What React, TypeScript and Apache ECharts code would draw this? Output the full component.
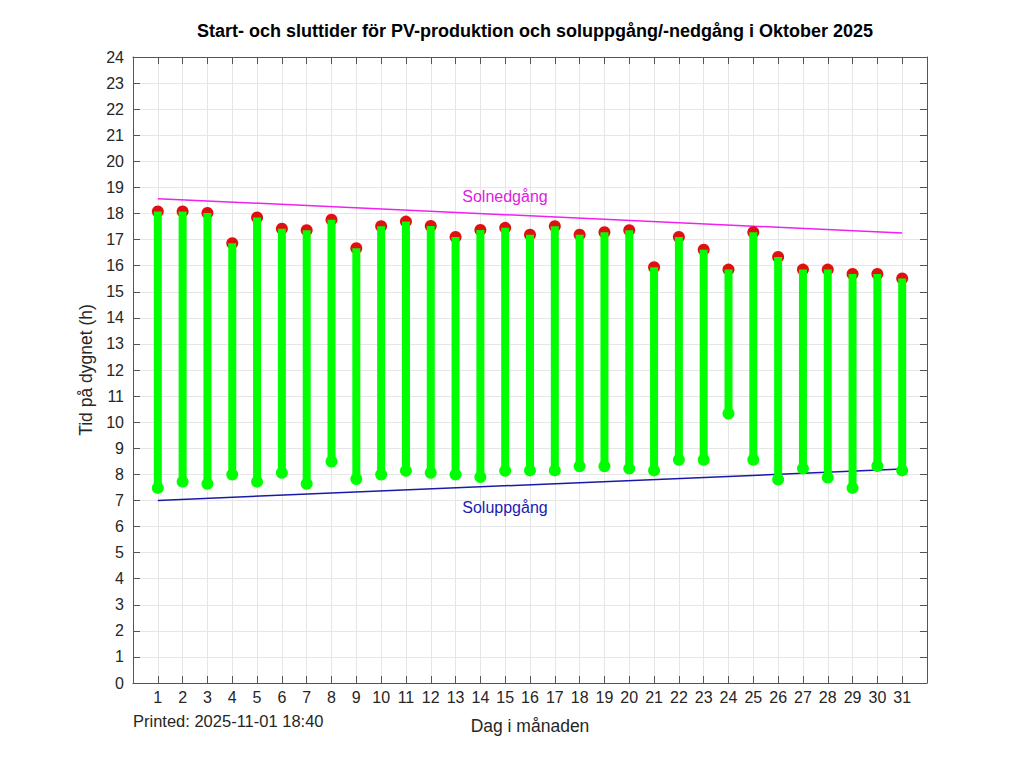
import React, { useEffect, useRef } from "react";
import * as echarts from "echarts";

const days = Array.from({ length: 31 }, (_, i) => i + 1);
const startTimes = [7.48, 7.72, 7.64, 7.99, 7.72, 8.06, 7.64, 8.49, 7.82, 7.99, 8.14, 8.06, 7.99, 7.9, 8.14, 8.15, 8.15, 8.31, 8.31, 8.22, 8.15, 8.56, 8.56, 10.33, 8.56, 7.8, 8.22, 7.88, 7.48, 8.32, 8.15];
const endTimes = [18.08, 18.08, 18.02, 16.86, 17.85, 17.42, 17.36, 17.76, 16.67, 17.51, 17.69, 17.52, 17.1, 17.37, 17.45, 17.19, 17.51, 17.19, 17.28, 17.36, 15.94, 17.1, 16.61, 15.85, 17.28, 16.33, 15.85, 15.85, 15.68, 15.68, 15.51];
const sunsetLine = [[1, 18.57], [31, 17.25]];
const sunriseLine = [[1, 7.0], [31, 8.2]];

const FONT = "Liberation Sans, Arial, Helvetica, sans-serif";
const AXIS_COLOR = "#555";
const TEXT_COLOR = "#262626";

export default function App() {
  const ref = useRef<HTMLDivElement>(null);
  useEffect(() => {
    document.body.style.margin = "0";
    const chart = echarts.init(ref.current!, null, { renderer: "svg" });
    const commonTick = { show: true, inside: true, length: 7, lineStyle: { color: AXIS_COLOR } };
    chart.setOption({
      animation: false,
      backgroundColor: "#fff",
      textStyle: { fontFamily: FONT },
      title: {
        text: "Start- och sluttider för PV-produktion och soluppgång/-nedgång i Oktober 2025",
        left: 530,
        textAlign: "center",
        top: 17,
        textStyle: { fontSize: 18, fontWeight: "bold", color: "#000", fontFamily: FONT },
      },
      grid: { left: 133, right: 97, top: 57, bottom: 85, containLabel: false },
      xAxis: [
        {
          type: "value",
          min: 0,
          max: 32,
          interval: 1,
          name: "Dag i månaden",
          nameLocation: "middle",
          nameGap: 34,
          nameTextStyle: { fontSize: 17.5, color: TEXT_COLOR, fontFamily: FONT },
          axisLine: { show: true, onZero: false, lineStyle: { color: AXIS_COLOR } },
          axisTick: commonTick,
          axisLabel: {
            fontSize: 16,
            color: TEXT_COLOR,
            margin: 6,
            formatter: (v: number) => (v >= 1 && v <= 31 ? String(v) : ""),
          },
          splitLine: { show: true, lineStyle: { color: "#e6e6e6" } },
        },
        {
          type: "value",
          position: "top",
          min: 0,
          max: 32,
          interval: 1,
          axisLine: { show: true, onZero: false, lineStyle: { color: AXIS_COLOR } },
          axisTick: commonTick,
          axisLabel: { show: false },
          splitLine: { show: false },
        },
      ],
      yAxis: [
        {
          type: "value",
          min: 0,
          max: 24,
          interval: 1,
          name: "Tid på dygnet (h)",
          nameLocation: "middle",
          nameGap: 37,
          nameTextStyle: { fontSize: 17.5, color: TEXT_COLOR, fontFamily: FONT },
          axisLine: { show: true, onZero: false, lineStyle: { color: AXIS_COLOR } },
          axisTick: commonTick,
          axisLabel: { fontSize: 16, color: TEXT_COLOR, margin: 9 },
          splitLine: { show: true, lineStyle: { color: "#e6e6e6" } },
        },
        {
          type: "value",
          position: "right",
          min: 0,
          max: 24,
          interval: 1,
          axisLine: { show: true, onZero: false, lineStyle: { color: AXIS_COLOR } },
          axisTick: commonTick,
          axisLabel: { show: false },
          splitLine: { show: false },
        },
      ],
      series: [
        {
          type: "line",
          data: sunsetLine,
          symbol: "none",
          lineStyle: { color: "#f020f0", width: 1.5 },
          z: 1,
        },
        {
          type: "line",
          data: sunriseLine,
          symbol: "none",
          lineStyle: { color: "#1a1aa8", width: 1.5 },
          z: 1,
        },
        {
          type: "scatter",
          data: days.map((d, i) => [d, endTimes[i]]),
          symbol: "circle",
          symbolSize: 12,
          itemStyle: { color: "#e01010", opacity: 1 },
          z: 2,
        },
        {
          type: "custom",
          data: days.map((d, i) => [d, startTimes[i], endTimes[i]]),
          renderItem: (params: any, api: any) => {
            const a = api.coord([api.value(0), api.value(1)]);
            const b = api.coord([api.value(0), api.value(2)]);
            return {
              type: "line",
              shape: { x1: a[0], y1: a[1], x2: b[0], y2: b[1] },
              style: { stroke: "#00ff00", lineWidth: 8 },
            };
          },
          z: 3,
        },
        {
          type: "scatter",
          data: days.map((d, i) => [d, startTimes[i]]),
          symbol: "circle",
          symbolSize: 12,
          itemStyle: { color: "#00ff00", opacity: 1 },
          z: 4,
        },
      ],
      graphic: [
        {
          type: "text",
          x: 505,
          y: 196,
          z: 100,
          style: { text: "Solnedgång", fill: "#e020e0", fontSize: 16, fontFamily: FONT, align: "center", verticalAlign: "middle", backgroundColor: "transparent" },
        },
        {
          type: "text",
          x: 505,
          y: 507,
          z: 100,
          style: { text: "Soluppgång", fill: "#1a1ab4", fontSize: 16, fontFamily: FONT, align: "center", verticalAlign: "middle" },
        },
        {
          type: "text",
          x: 133,
          y: 721,
          z: 100,
          style: { text: "Printed: 2025-11-01 18:40", fill: TEXT_COLOR, fontSize: 16.5, fontFamily: FONT, align: "left", verticalAlign: "middle" },
        },
      ],
    });
    return () => chart.dispose();
  }, []);
  return <div ref={ref} style={{ width: 1024, height: 768 }} />;
}
